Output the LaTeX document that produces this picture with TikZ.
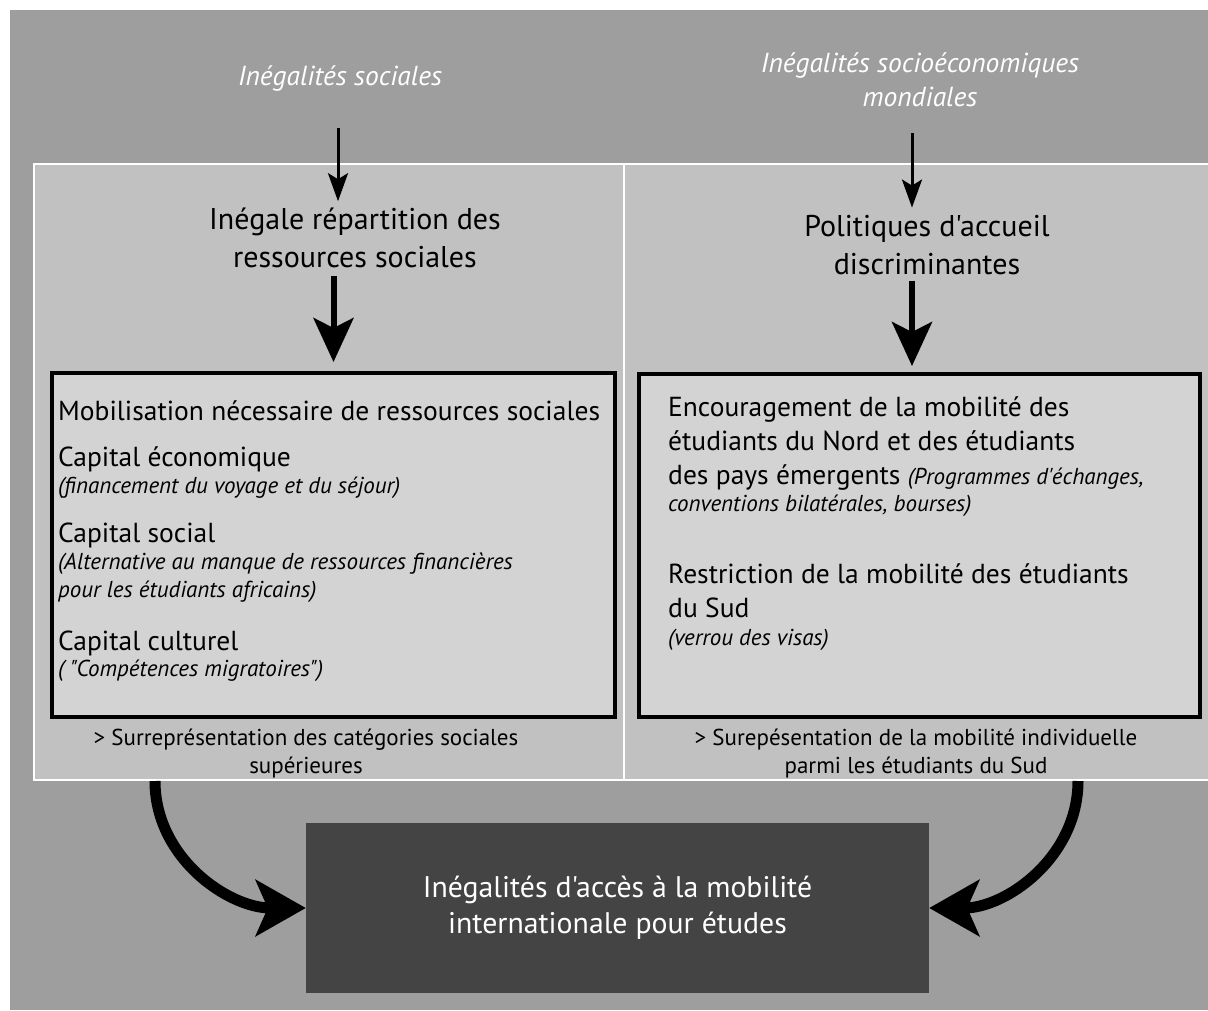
\documentclass[tikz,border=0pt]{standalone}
\usepackage{fontspec}
\setmainfont{PT Sans}[Ligatures=TeXOff]
\usetikzlibrary{arrows.meta, positioning, calc}
\definecolor{pageGray}{RGB}{158,158,158}
\definecolor{panelGray}{RGB}{193,193,193}
\definecolor{boxGray}{RGB}{211,211,211}
\definecolor{resultGray}{RGB}{68,68,68}
\newcommand{\subfont}{\fontsize{23}{28}\selectfont\itshape}
\tikzset{
    panel/.style={
        rectangle,
        draw=white,
        line width=2pt,
        fill=panelGray,
        anchor=north west,
        inner sep=0pt
    },
    framebox/.style={
        rectangle,
        draw=black,
        line width=4pt,
        fill=boxGray,
        anchor=north west,
        inner sep=0pt
    },
    resultbox/.style={
        rectangle,
        fill=resultGray,
        text=white,
        align=center,
        minimum width=623pt,
        minimum height=170pt,
        font=\fontsize{29.8}{36}\selectfont
    },
    sourcetext/.style={text=white, align=center, anchor=base, inner sep=0pt, font=\fontsize{27.5}{34}\selectfont\itshape},
    causetext/.style={align=center, anchor=base, inner sep=0pt, font=\fontsize{30}{38}\selectfont},
    itemtext/.style={align=left, anchor=base west, inner sep=0pt, font=\fontsize{27.5}{34}\selectfont},
    subtext/.style={align=left, anchor=base west, inner sep=0pt, font=\subfont},
    effecttext/.style={align=center, anchor=base, inner sep=0pt, font=\fontsize{23}{28}\selectfont},
    thinarrow/.style={-{Stealth[length=28pt, width=20pt, inset=6pt]}, line width=3pt},
    thickarrow/.style={-{Stealth[length=44pt, width=40pt, inset=10pt]}, line width=6pt},
    bigarrow/.style={-{Stealth[length=50pt, width=56pt, inset=12pt]}, line width=11pt}
}

\begin{document}
\begin{tikzpicture}[x=1pt, y=-1pt]
        \useasboundingbox (0,0) rectangle (1208,1010);
        \fill[pageGray] (10,10) rectangle (1208,1010);

        % panneaux
        \node[panel, minimum width=590pt, minimum height=616pt] (leftpanel) at (33,163) {};
        \node[panel, minimum width=588pt, minimum height=616pt] (rightpanel) at (623,163) {};

        % sources
        \node[sourcetext] (social) at (340,85) {Inégalités sociales};
        \node[sourcetext] (world) at (920,106) {Inégalités socioéconomiques\\mondiales};

        \node[causetext] (repart) at (355,267) {Inégale répartition des\\ressources sociales};
        \node[causetext] (policy) at (927,274) {Politiques d'accueil\\discriminantes};

        \node[framebox, minimum width=563pt, minimum height=344pt] (leftbox) at (50,371) {};
        \node[framebox, minimum width=561pt, minimum height=343pt] (rightbox) at (637,372) {};

        % ressources sociales
        \node[itemtext] (mobil) at (58,420) {Mobilisation nécessaire de ressources sociales};
        \node[itemtext] (eco) at (58,466) {Capital économique};
        \node[subtext] (ecosub) at (58,493) {(financement du voyage et du séjour)};
        \node[itemtext] (soc) at (58,542) {Capital social};
        \node[subtext] (socsub) at (58,597) {(Alternative au manque de ressources financières\\pour les étudiants africains)};
        \node[itemtext] (cult) at (58,650) {Capital culturel};
        \node[subtext] (cultsub) at (58,676) {( "Compétences migratoires")};

        % politiques
        \node[itemtext] (north) at (668,511) {Encouragement de la mobilité des\\étudiants du Nord et des étudiants\\des pays émergents {\subfont (Programmes d'échanges,}\\[-7pt]{\subfont conventions bilatérales, bourses)}};
        \node[itemtext] (south) at (668,617) {Restriction de la mobilité des étudiants\\du Sud};
        \node[subtext] (southsub) at (668,645) {(verrou des visas)};

        \node[effecttext] (leftfx) at (306,773) {> Surreprésentation des catégories sociales\\supérieures};
        \node[effecttext] (rightfx) at (916,773) {> Surepésentation de la mobilité individuelle\\parmi les étudiants du Sud};

        \node[resultbox] (result) at (617.5,908) {Inégalités d'accès à la mobilité\\internationale pour études};

        \draw[thinarrow, shorten <=37pt, shorten >=6pt] ([xshift=-2pt]social.south) -- ([xshift=-2pt]social.south |- repart.north);
        \draw[thinarrow, shorten <=26pt, shorten >=7pt] ([xshift=-8pt]world.south) -- ([xshift=-8pt]world.south |- policy.north);
        \draw[thickarrow, shorten <=8pt, shorten >=9pt] (leftbox.north |- repart.south) -- (leftbox.north);
        \draw[thickarrow, shorten <=6pt, shorten >=6pt] ([xshift=-7.5pt]rightbox.north |- policy.south) -- ([xshift=-7.5pt]rightbox.north);
        \draw[bigarrow] ([xshift=122pt]leftpanel.south west) to[out=-90, in=180] (result.west);
        \draw[bigarrow] ([xshift=455pt]rightpanel.south west) to[out=-90, in=0] (result.east);
    \end{tikzpicture}
\end{document}
